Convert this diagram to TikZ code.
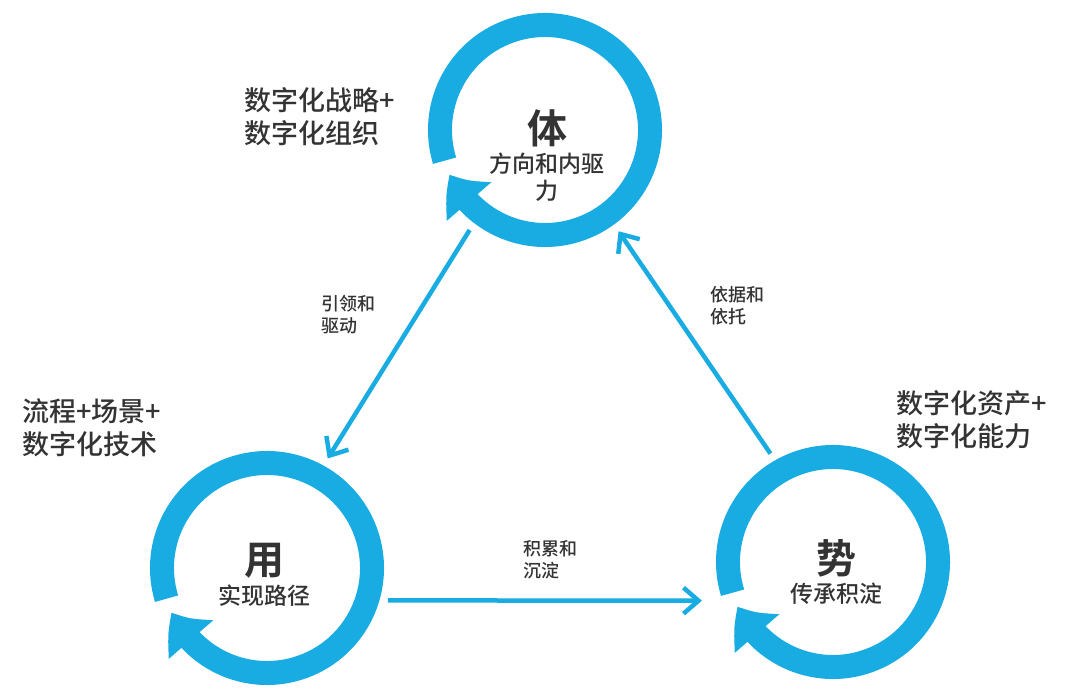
\documentclass[tikz,border=0pt]{standalone}
\usepackage{fontspec}
\setmainfont{Noto Sans CJK SC}
\newfontfamily\cjkbold{Noto Sans CJK SC Bold}
\newfontfamily\cjkmid{Noto Sans CJK SC Medium}
\usetikzlibrary{arrows.meta, bending, positioning}
\definecolor{ringblue}{HTML}{18ACE3}
\definecolor{ink}{HTML}{333333}

\begin{document}
\begin{tikzpicture}[x=1pt, y=1pt,
	hub/.style={circle, minimum size=250pt, inner sep=0pt},
	ring/.style={ringblue, line width=24pt, -{Triangle[width=56pt, length=34pt, bend]}},
	link/.style={ringblue, line width=4.5pt, -{Straight Barb[width=26pt, length=15pt, line width=4.5pt]}},
	big/.style={text=ink, font=\cjkbold\fontsize{40}{44}\selectfont, inner sep=0pt},
	sub/.style={text=ink, align=center, font=\cjkmid\fontsize{23}{27}\selectfont, inner sep=0pt},
	note/.style={text=ink, align=left, font=\cjkmid\fontsize{27}{33}\selectfont, inner sep=0pt},
	lab/.style={text=ink, align=left, font=\cjkmid\fontsize{18}{22}\selectfont, inner sep=0pt}]

	\useasboundingbox (0,0) rectangle (1072,689);

	\node[hub] (ti) at (545,559) {};
	\node[hub] (yong) at (267,121) {};
	\node[hub] (shi) at (833,127) {};

	\foreach \c in {ti, yong, shi}
		\draw[ring] ([shift={(197:105)}]\c.center) arc[start angle=197, end angle=-155, radius=105];

	\node[big] (tiname) at (547,561) {体};
	\node[sub, below=6pt of tiname] (tisub) {方向和内驱\\力};
	\node[big] (yongname) at (264,128) {用};
	\node[sub, below=6pt of yongname] (yongsub) {实现路径};
	\node[big] (shiname) at (836,131) {势};
	\node[sub, below=6pt of shiname] (shisub) {传承积淀};

	\draw[link] (ti.233) -- (yong.61);
	\draw[link] (shi.120) -- (ti.306);
	\draw[link] (yong.-15) -- ([xshift=-12pt]shi.198);

	\node[lab] (l1) at (348,374) {引领和\\驱动};
	\node[lab] (l2) at (737,383) {依据和\\依托};
	\node[lab] (l3) at (550,129) {积累和\\沉淀};

	\node[note] (n1) at (320,572) {数字化战略+\\数字化组织};
	\node[note] (n2) at (92,261) {流程+场景+\\数字化技术};
	\node[note] (n3) at (972,269) {数字化资产+\\数字化能力};

\end{tikzpicture}
\end{document}
